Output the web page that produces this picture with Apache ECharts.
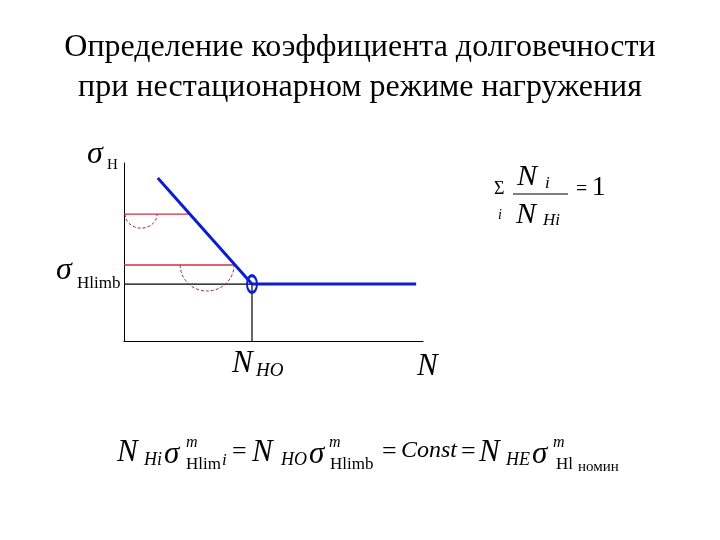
<!DOCTYPE html>
<html><head><meta charset="utf-8">
<script src="https://cdn.jsdelivr.net/npm/echarts@6/dist/echarts.min.js"></script>
<style>html,body{margin:0;padding:0;background:#fff}#c{width:720px;height:540px}</style>
</head><body><div id="c"></div>
<script>
// ---- data ----
const titleLines = ['Определение коэффициента долговечности', 'при нестационарном режиме нагружения'];
const curveN = [1.13, 4.28, 9.77];          // Wöhler curve: cycles
const curveSigma = [9.16, 3.2, 3.2];         // Wöhler curve: stress
const kneeN = 4.28;                          // N_HO
const sigmaHlimb = 3.2;                      // σ_Hlimb
const stressLevels = [7.13, 4.27];           // σ_Hi levels
const stressLevelN = [2.20, 3.715];          // intersection with curve
const arcCenterN = [0.57, 2.78];
const arcRadiusN = [0.535, 0.90];
const arcRadiusSigma = [0.79, 1.46];

const SERIF = 'Liberation Serif';
const chart = echarts.init(document.getElementById('c'), null, {renderer: 'canvas'});

function txt(x, y, s, size, italic, align) {
  return {
    type: 'text', x: x, y: y,
    style: {text: s, fontFamily: SERIF, fontSize: size, fontStyle: italic ? 'italic' : 'normal',
      fill: '#000', textAlign: align || 'left', textVerticalAlign: 'middle'}
  };
}

const graphics = [
  txt(360, 48, titleLines[0], 32, false, 'center'),
  txt(360, 88, titleLines[1], 32, false, 'center'),
  // axis labels
  txt(87, 155, 'σ', 32, true), txt(107, 165, 'H', 15, false),
  txt(56, 271, 'σ', 32, true), txt(77, 284, 'Hlimb', 17, false),
  txt(232, 364, 'N', 31, true), txt(256, 371, 'HO', 19, true),
  txt(417, 367, 'N', 31, true),
  // right formula
  txt(494, 189, 'Σ', 18, false), txt(498, 215, 'i', 14, true),
  txt(517, 177, 'N', 30, true), txt(545, 184, 'i', 17, true),
  {type: 'line', shape: {x1: 513, y1: 194, x2: 568, y2: 194}, style: {stroke: '#000', lineWidth: 1}},
  txt(516, 215, 'N', 30, true), txt(543, 221, 'Hi', 17, true),
  txt(576, 190, '=', 20, false), txt(592, 188, '1', 27, false),
  // bottom formula
  txt(117, 453, 'N', 31, true), txt(144, 460, 'Hi', 18, true),
  txt(164, 455, 'σ', 31, true), txt(186, 443, 'm', 16, true),
  txt(186, 465, 'Hlim', 17, false), txt(222, 461, 'i', 17, true),
  txt(232, 452, '=', 26, false),
  txt(252, 453, 'N', 31, true), txt(281, 460, 'HO', 18, true),
  txt(309, 455, 'σ', 31, true), txt(329, 443, 'm', 16, true),
  txt(330, 465, 'Hlimb', 17, false),
  txt(382, 452, '=', 26, false), txt(401, 451, 'Const', 24, true), txt(461, 452, '=', 26, false),
  txt(479, 453, 'N', 31, true), txt(506, 460, 'HE', 18, true),
  txt(532, 455, 'σ', 31, true), txt(553, 443, 'm', 16, true),
  txt(556, 465, 'Hl', 17, false), txt(578, 467, 'номин', 15, false)
];

const option = {
  animation: false,
  backgroundColor: '#fff',
  grid: {left: 124, top: 163, width: 299, height: 178, containLabel: false},
  xAxis: {type: 'value', min: 0, max: 10, axisLine: {show: true, onZero: false, lineStyle: {color: '#000', width: 1}},
    axisTick: {show: false}, axisLabel: {show: false}, splitLine: {show: false}},
  yAxis: {type: 'value', min: 0, max: 10, axisLine: {show: true, onZero: false, lineStyle: {color: '#000', width: 1}},
    axisTick: {show: false}, axisLabel: {show: false}, splitLine: {show: false}},
  series: [
    {type: 'line', data: [[0, sigmaHlimb], [kneeN, sigmaHlimb], [kneeN, 0]], symbol: 'none',
      lineStyle: {color: '#000', width: 1.2}, z: 1},
    ...stressLevels.map((s, i) => ({type: 'line', data: [[0, s], [stressLevelN[i], s]], symbol: 'none',
      lineStyle: {color: '#cc3048', width: 1.3}, z: 2})),
    {type: 'custom', z: 3,
      data: arcCenterN.map((n, i) => [n, stressLevels[i], arcRadiusN[i], arcRadiusSigma[i]]),
      renderItem: function (params, api) {
        const c = api.coord([api.value(0), api.value(1)]);
        const s = api.size([api.value(2), api.value(3)]);
        return {type: 'path', shape: {pathData: 'M ' + (c[0] - s[0]) + ' ' + c[1] + ' A ' + s[0] + ' ' + s[1] + ' 0 0 0 ' + (c[0] + s[0]) + ' ' + c[1]},
          style: {fill: null, stroke: '#9a2a30', lineWidth: 1, lineDash: [3, 2]}};
      }},
    {type: 'line', data: curveN.map((n, i) => [n, curveSigma[i]]), symbol: 'none',
      lineStyle: {color: '#0a1ed2', width: 3}, z: 4},
    {type: 'scatter', data: [[kneeN, sigmaHlimb]], symbol: 'circle', symbolSize: [10, 17],
      itemStyle: {color: 'rgba(255,255,255,0)', borderColor: '#0a1ed2', borderWidth: 2.5, opacity: 1}, z: 5}
  ],
  graphic: graphics
};
chart.setOption(option);
</script></body></html>
